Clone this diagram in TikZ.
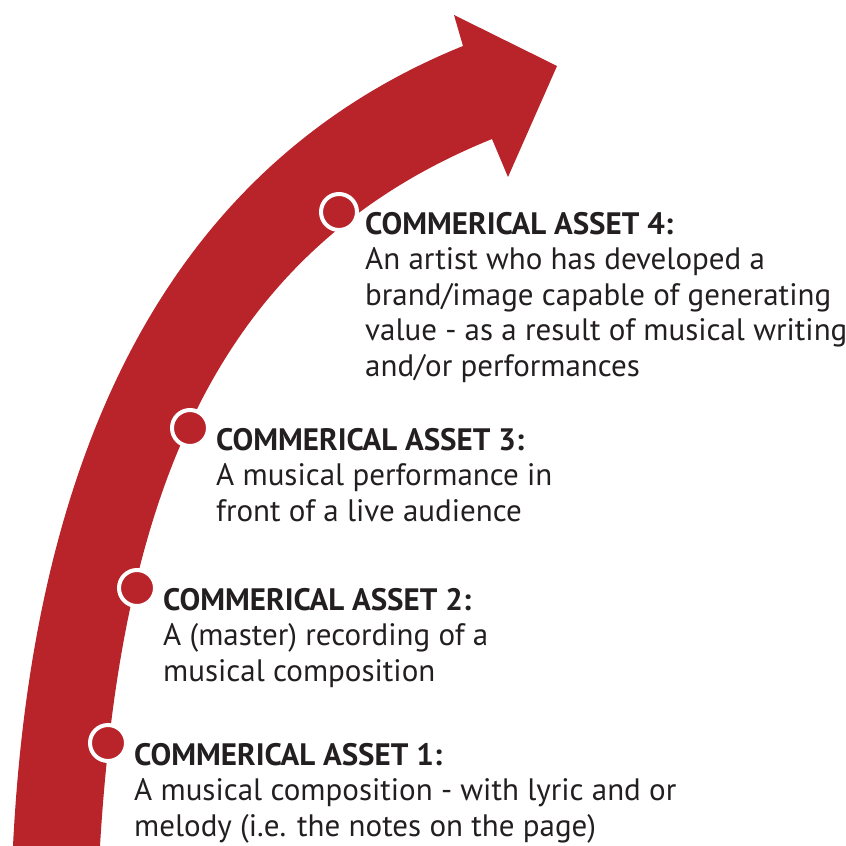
\documentclass[tikz,border=0pt]{standalone}
\usepackage{fontspec}
\setmainfont{PT Sans}
\usepackage{xcolor}
\definecolor{arrowred}{RGB}{185,35,42}
\definecolor{inkgray}{RGB}{35,31,32}
\usetikzlibrary{positioning}

\begin{document}
\begin{tikzpicture}[x=1pt,y=-1pt,
    marker/.style={circle, fill=arrowred, draw=white, line width=4pt,
        minimum size=36pt, inner sep=0pt},
    asset/.style={align=left, inner sep=0pt, text=inkgray,
        font=\fontsize{31}{35.5}\selectfont}]
  \useasboundingbox (0,0) rectangle (846,846);
  \clip (0,0) rectangle (846,846);
  % curved arrow
  \fill[arrowred] (13,846) .. controls (34,426) and (185,158.5) .. (463,46)
    -- (454,15) -- (557,66) -- (508,177) -- (492,139)
    .. controls (214,251.5) and (121,497) .. (100,846) -- cycle;
  % markers on the inner edge
  \node (m1) [marker] at (108,743) {};
  \node (m2) [marker] at (137,588) {};
  \node (m3) [marker] at (190,428) {};
  \node (m4) [marker] at (339,212) {};
  % labels
  \node (a1) [asset, below right=0pt and 26pt of m1.center]
    {\textbf{COMMERICAL ASSET 1:}\\A musical composition - with lyric and or\\melody (i.e. the notes on the page)};
  \node (a2) [asset, below right=0pt and 26pt of m2.center]
    {\textbf{COMMERICAL ASSET 2:}\\A (master) recording of a\\musical composition};
  \node (a3) [asset, below right=0pt and 26pt of m3.center]
    {\textbf{COMMERICAL ASSET 3:}\\A musical performance in\\front of a live audience};
  \node (a4) [asset, below right=0pt and 26pt of m4.center]
    {\textbf{COMMERICAL ASSET 4:}\\An artist who has developed a\\brand/image capable of generating\\value - as a result of musical writing\\and/or performances};
\end{tikzpicture}
\end{document}
